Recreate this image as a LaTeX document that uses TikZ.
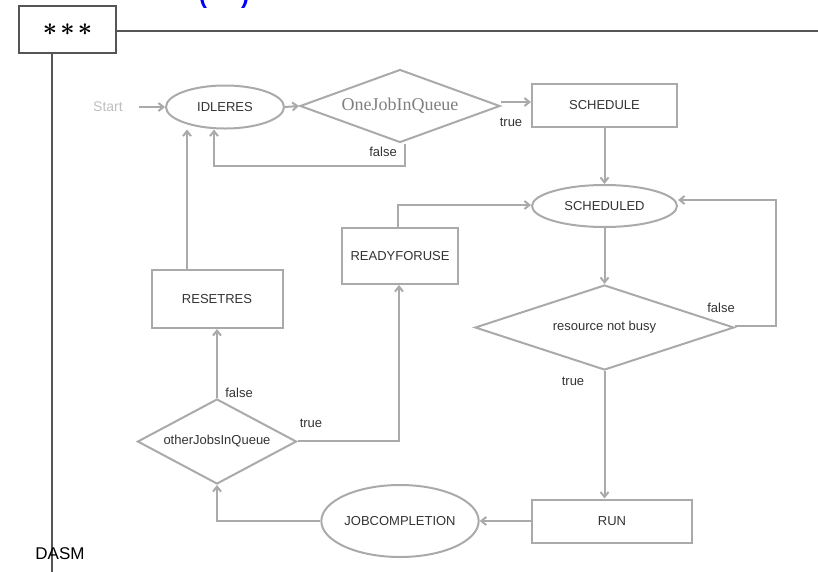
\documentclass[tikz,border=0pt]{standalone}
\usepackage{fontspec}
\setmainfont{Liberation Sans}
\newfontfamily\serifq{Liberation Serif}
\usetikzlibrary{shapes.geometric,arrows.meta}
\definecolor{lgrey}{HTML}{AAAAAA}
\definecolor{tgrey}{HTML}{333333}
\definecolor{fgrey}{HTML}{555555}
\begin{document}
\begin{tikzpicture}[x=1pt,y=-1pt,
  every node/.style={inner sep=0pt},
  arr/.style={draw=lgrey,line width=2pt,-{Straight Barb[length=5pt,width=8pt]}},
  rbox/.style={draw=lgrey,line width=2pt,rectangle,font=\fontsize{13}{15}\selectfont,text=tgrey},
  ebox/.style={draw=lgrey,line width=2pt,ellipse,font=\fontsize{13}{15}\selectfont,text=tgrey},
  dbox/.style={draw=lgrey,line width=2pt,diamond,font=\fontsize{13}{15}\selectfont,text=tgrey},
  lbl/.style={font=\fontsize{13}{15}\selectfont,text=tgrey}]
\useasboundingbox (0,0) rectangle (818,571);
% frame
\node[draw=fgrey,line width=2pt,minimum width=97pt,minimum height=47pt,font=\boldmath\fontsize{36}{38}\selectfont] (frame) at (67.5,29.5) {$\ast\mkern-2mu\ast\mkern-2mu\ast$};
\coordinate (rt) at (818,31);
\draw[fgrey,line width=2pt] (frame.east |- rt) -- (rt);
\draw[fgrey,line width=2pt] ([xshift=-15.5pt]frame.south) -- ++(0,518);
\node[font=\fontsize{17}{19}\selectfont,anchor=base] (dasm) at (60,559) {DASM};
\node[font=\bfseries\fontsize{24}{26}\selectfont,text=blue,anchor=base] (lp) at (203,3) {(};
\node[font=\bfseries\fontsize{24}{26}\selectfont,text=blue,anchor=base] (rp) at (245,3) {)};
% nodes
\node[font=\fontsize{14}{16}\selectfont,text=black!25] (start) at (108,107) {Start};
\node[ebox,minimum width=118pt,minimum height=43pt] (idle) at (225,107) {IDLERES};
\node[dbox,aspect=2.7,minimum width=200pt,minimum height=73pt,font=\serifq\fontsize{18}{20}\selectfont,text=black!50] (q1) at (400,106) {OneJobInQueue};
\node[rbox,minimum width=145pt,minimum height=43pt] (sched) at (604.5,105.5) {SCHEDULE};
\node[ebox,minimum width=145pt,minimum height=42pt] (scheduled) at (604.5,206) {SCHEDULED};
\node[rbox,minimum width=116pt,minimum height=56pt] (ready) at (400,256) {READYFORUSE};
\node[dbox,aspect=3,minimum width=259pt,minimum height=85pt] (busy) at (604.5,327.5) {resource not busy};
\node[rbox,minimum width=160pt,minimum height=43pt] (run) at (612,521) {RUN};
\node[ebox,minimum width=146pt,minimum height=72pt] (jobc) at (400,521) {JOBCOMPLETION};
\node[dbox,aspect=1.9,minimum width=159pt,minimum height=85pt] (other) at (217,441.5) {otherJobsInQueue};
\node[rbox,minimum width=131pt,minimum height=58pt] (reset) at (217,299) {RESETRES};
% connectors
\draw[arr] ([xshift=16pt]start.east) -- (idle.west);
\draw[arr] (idle.east) -- (q1.west);
\draw[arr] ([yshift=4pt]q1.east) -- ([yshift=4pt]q1.east -| sched.west);
\node[lbl] (t1) at (511,122) {true};
\draw[arr] ([xshift=5pt]q1.south) -- ++(0,22) -| ([xshift=-11pt]idle.south);
\node[lbl] (f1) at (383,152) {false};
\draw[arr] ([xshift=-30pt]reset.north) -- ([xshift=-30pt]reset.north |- idle.south);
\draw[arr] (sched.south) -- (scheduled.north);
\draw[arr] ([xshift=-2pt]ready.north) |- ([yshift=1pt]scheduled.west);
\draw[arr] (scheduled.south) -- (busy.north);
\draw[arr] ([yshift=2pt]busy.east) -- ++(41,0) |- ([yshift=6pt]scheduled.east);
\node[lbl] (f2) at (721,308) {false};
\draw[arr] (busy.south) -- (busy.south |- run.north);
\node[lbl] (t2) at (573,381) {true};
\draw[arr] (run.west) -- (jobc.east);
\draw[arr] (jobc.west) -| (other.south);
\draw[arr] (other.north) -- (reset.south);
\node[lbl] (f3) at (239,393) {false};
\draw[arr] ([yshift=1pt]other.east) -| ([xshift=-1pt]ready.south);
\node[lbl] (t3) at (311,423) {true};
\end{tikzpicture}
\end{document}
